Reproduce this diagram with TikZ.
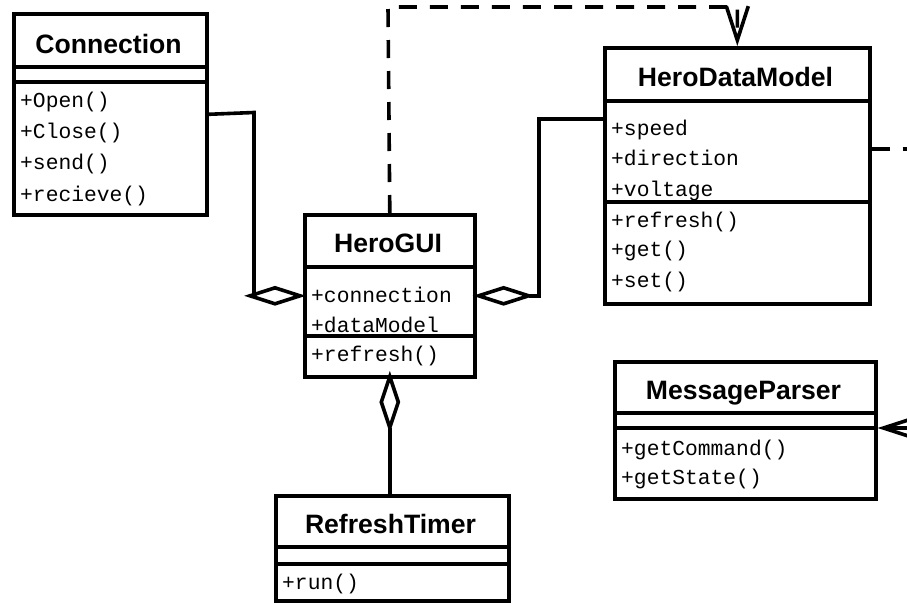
\documentclass[tikz,border=0pt]{standalone}
\usepackage{fontspec}
\setmainfont{Liberation Sans}
\setmonofont{Liberation Mono}
\usetikzlibrary{shapes.geometric,arrows.meta,backgrounds}

\begin{document}
\begin{tikzpicture}[x=1pt,y=-1pt,
  classbox/.style={draw, line width=3.6pt, rectangle, inner sep=0pt, anchor=north west},
  divider/.style={line width=3.6pt},
  title/.style={font=\bfseries\fontsize{26.6}{31}\selectfont, anchor=base, inner sep=0pt},
  member/.style={font=\ttfamily\fontsize{21.3}{25}\selectfont, anchor=mid west,
    inner sep=0pt, yshift=-3.5pt, xshift=1.5pt},
  aggr/.style={diamond, draw, fill=white, line width=3.6pt, line join=miter,
    inner sep=0pt, outer sep=0pt},
  hdiam/.style={aggr, minimum width=50pt, minimum height=16pt},
  vdiam/.style={aggr, minimum width=17pt, minimum height=51pt},
  link/.style={line width=3.6pt},
  dep/.style={line width=3.6pt, dash pattern=on 18pt off 13pt},
  opentip/.style={-{Straight Barb[length=34pt,width=22pt]}},
]
\useasboundingbox (0,0) rectangle (907,602);
\clip (0,0) rectangle (907,602);

% ---------- Connection ----------
\node[classbox, minimum width=193pt, minimum height=201pt] (conn) at (12,12) {};
\draw[divider] (conn.west |- 0,67) -- (conn.east |- 0,67);
\draw[divider] (conn.west |- 0,82) -- (conn.east |- 0,82);
\node[title] (connT) at (108.5,53) {Connection};
\node[member] (connM1) at (18.5,101) {+Open()};
\node[member] (connM2) at (18.5,132) {+Close()};
\node[member] (connM3) at (18.5,163.5) {+send()};
\node[member] (connM4) at (18.5,195) {+recieve()};

% ---------- HeroGUI ----------
\node[classbox, minimum width=170pt, minimum height=162pt] (gui) at (303,213) {};
\draw[divider] (gui.west |- 0,267) -- (gui.east |- 0,267);
\draw[divider] (gui.west |- 0,336) -- (gui.east |- 0,336);
\node[title] (guiT) at (388,252) {HeroGUI};
\node[member] (guiA1) at (309.5,296) {+connection};
\node[member] (guiA2) at (309.5,326) {+dataModel};
\node[member] (guiM1) at (309.5,355) {+refresh()};

% ---------- HeroDataModel ----------
\node[classbox, minimum width=265pt, minimum height=256pt] (hdm) at (603,46) {};
\draw[divider] (hdm.west |- 0,101) -- (hdm.east |- 0,101);
\draw[divider] (hdm.west |- 0,202) -- (hdm.east |- 0,202);
\node[title] (hdmT) at (735.5,86) {HeroDataModel};
\node[member] (hdmA1) at (609.5,129) {+speed};
\node[member] (hdmA2) at (609.5,159) {+direction};
\node[member] (hdmA3) at (609.5,190) {+voltage};
\node[member] (hdmM1) at (609.5,221) {+refresh()};
\node[member] (hdmM2) at (609.5,250) {+get()};
\node[member] (hdmM3) at (609.5,281) {+set()};

% ---------- MessageParser ----------
\node[classbox, minimum width=261pt, minimum height=137pt] (mp) at (613,360) {};
\draw[divider] (mp.west |- 0,413) -- (mp.east |- 0,413);
\draw[divider] (mp.west |- 0,428) -- (mp.east |- 0,428);
\node[title] (mpT) at (743.5,399) {MessageParser};
\node[member] (mpM1) at (619.5,449) {+getCommand()};
\node[member] (mpM2) at (619.5,478) {+getState()};

% ---------- RefreshTimer ----------
\node[classbox, minimum width=233pt, minimum height=105pt] (rt) at (274,494) {};
\draw[divider] (rt.west |- 0,547) -- (rt.east |- 0,547);
\draw[divider] (rt.west |- 0,564) -- (rt.east |- 0,564);
\node[title] (rtT) at (390.5,533) {RefreshTimer};
\node[member] (rtM1) at (280.5,583) {+run()};

% ---------- aggregation diamonds ----------
\node[hdiam, anchor=east] (d1) at ([xshift=-3pt]gui.west) {};
\node[hdiam, anchor=west] (d2) at ([xshift=2pt]gui.east) {};
\node[vdiam, anchor=north] (d3) at ([yshift=2pt]gui.south) {};

% ---------- bend points and off-page ends ----------
\coordinate (k1) at (254,112.5);
\coordinate (k2) at (539,119);
\coordinate (topbend) at (388,7);
\coordinate (outHDM) at (930,149);
\coordinate (inMP) at (911,428);

% ---------- connectors (under the diamonds) ----------
\begin{scope}[on background layer]
  \fill[white] (0,0) rectangle (907,602);
  \draw[link] (conn.east) -- (k1) |- (d1.west);
  \draw[link] (hdm.west |- k2) -- (k2) |- (d2.east);
  \draw[link] (d3.south) -- (d3.south |- rt.north);
  \draw[dep, opentip] (gui.north) -- (topbend) -| (hdm.north);
  \draw[dep] (hdm.east |- outHDM) -- (outHDM);
  \draw[link, opentip] (inMP) -- (mp.east |- inMP);
\end{scope}
\end{tikzpicture}
\end{document}
